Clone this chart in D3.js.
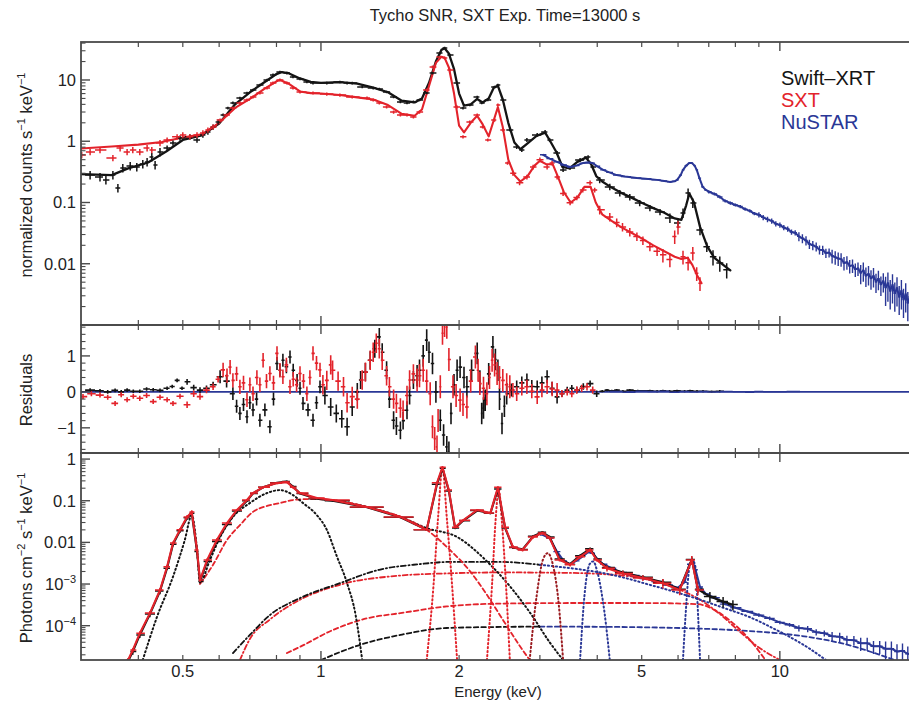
<!DOCTYPE html>
<html><head><meta charset="utf-8">
<script src="https://cdn.jsdelivr.net/npm/d3@7"></script>
<style>
body{margin:0;background:#fff}
svg{display:block}
text{font-family:"Liberation Sans",Arial,Helvetica,sans-serif;fill:#222}
</style>
</head><body>
<svg id="c" width="909" height="702"></svg>
<script>
// ---------- Swift-XRT folded spectrum (counts s^-1 keV^-1) ----------
const xrtE = [0.314,0.330,0.340,0.352,0.361,0.370,0.384,0.397,0.409,0.418,0.428,0.435,0.446,0.462,0.476,0.493,0.518,0.537,0.553,0.567,0.582,0.597,0.612,0.627,0.643,0.666,0.690,0.711,0.736,0.763,0.786,0.814,0.843,0.869,0.900,0.932,0.961,1.03,1.10,1.14,1.17,1.23,1.30,1.34,1.39,1.44,1.49,1.54,1.59,1.64,1.70,1.75,1.82,1.86,1.91,1.98,2.04,2.11,2.19,2.24,2.31,2.39,2.43,2.49,2.58,2.67,2.74,2.81,2.96,3.08,3.15,3.27,3.37,3.49,3.67,3.82,3.91,4.05,4.26,4.48,4.71,4.95,5.21,5.48,5.76,6.00,6.15,6.31,6.46,6.70,6.93,7.15,7.40,7.66];
const xrtRate = [0.282,0.262,0.234,0.282,0.173,0.367,0.395,0.381,0.426,0.459,0.554,0.411,0.669,0.777,0.938,1.13,1.18,1.05,1.27,1.42,1.71,2.06,2.69,3.49,4.22,5.09,6.14,6.87,8.29,10.0,12.1,13.5,13.0,11.2,10.4,9.28,8.93,8.93,9.28,8.93,8.93,7.69,7.40,7.13,6.37,5.28,4.38,4.22,4.38,4.72,6.14,13.0,27.6,33.3,25.6,8.93,3.49,3.91,5.28,4.22,4.72,7.69,8.29,4.72,1.53,0.807,0.721,1.05,1.27,1.42,1.05,0.644,0.340,0.367,0.495,0.554,0.381,0.234,0.180,0.143,0.123,0.0986,0.0817,0.0703,0.0561,0.0465,0.0677,0.143,0.0986,0.0357,0.0189,0.0130,0.0103,0.00795];
const xrtModelE = [0.30,0.35,0.38,0.42,0.46,0.50,0.55,0.60,0.65,0.70,0.75,0.80,0.82,0.85,0.90,0.95,1.0,1.1,1.2,1.3,1.4,1.5,1.6,1.66,1.72,1.78,1.83,1.86,1.90,1.95,2.0,2.05,2.12,2.19,2.25,2.32,2.38,2.43,2.49,2.56,2.64,2.72,2.82,2.95,3.08,3.16,3.26,3.36,3.48,3.62,3.78,3.88,3.98,4.1,4.3,4.5,4.75,5.0,5.3,5.6,5.9,6.1,6.25,6.35,6.5,6.7,6.95,7.2,7.5,7.8];
const xrtModel = [0.29,0.28,0.36,0.45,0.68,1.05,1.25,1.95,4.0,6.3,9.0,12.5,13.4,12.9,10.6,9.3,9.0,9.2,8.7,7.5,6.3,4.6,4.3,5.0,9.0,20,31,33,27,15,6.0,3.8,4.0,4.9,4.3,5.0,7.5,8.0,4.8,2.0,0.95,0.74,0.92,1.22,1.38,1.0,0.66,0.38,0.36,0.46,0.54,0.42,0.27,0.22,0.175,0.145,0.12,0.099,0.081,0.068,0.055,0.052,0.09,0.14,0.10,0.04,0.019,0.0125,0.0098,0.0078];

// ---------- SXT folded spectrum ----------
const sxtE = [0.301,0.314,0.330,0.352,0.365,0.378,0.389,0.403,0.418,0.428,0.446,0.462,0.486,0.500,0.518,0.537,0.553,0.567,0.582,0.603,0.624,0.643,0.666,0.690,0.711,0.736,0.763,0.786,0.814,0.843,0.869,0.900,0.961,1.03,1.10,1.17,1.26,1.30,1.34,1.39,1.44,1.49,1.54,1.59,1.64,1.70,1.75,1.82,1.86,1.91,1.98,2.04,2.11,2.19,2.25,2.31,2.39,2.43,2.49,2.55,2.62,2.71,2.81,2.90,3.00,3.11,3.19,3.27,3.37,3.49,3.61,3.72,3.86,3.95,4.05,4.26,4.41,4.54,4.71,4.88,5.03,5.21,5.40,5.56,5.76,5.90,6.00,6.15,6.31,6.46,6.59,6.70];
const sxtRate = [0.598,0.669,0.721,0.535,0.777,0.669,0.721,0.669,0.777,0.721,0.938,1.05,1.18,1.27,1.18,1.27,1.37,1.53,1.71,2.22,2.69,3.49,4.22,4.72,5.28,6.14,7.40,8.93,10.0,8.93,7.40,6.37,6.14,5.90,5.68,5.28,5.09,4.72,4.22,3.63,3.00,2.69,2.69,2.49,3.00,6.87,16.3,23.7,22.9,14.5,3.63,1.18,2.06,2.69,1.71,1.05,2.22,3.91,1.53,0.44,0.30,0.21,0.26,0.38,0.50,0.38,0.44,0.26,0.14,0.099,0.12,0.16,0.21,0.16,0.076,0.058,0.047,0.040,0.033,0.028,0.024,0.019,0.016,0.014,0.0117,0.028,0.040,0.013,0.0104,0.015,0.007,0.0048];
const sxtModelE = [0.30,0.35,0.40,0.45,0.50,0.55,0.60,0.65,0.70,0.75,0.80,0.815,0.85,0.90,0.95,1.0,1.1,1.2,1.3,1.4,1.5,1.6,1.66,1.72,1.78,1.83,1.86,1.90,1.95,2.0,2.05,2.12,2.19,2.25,2.32,2.38,2.43,2.49,2.56,2.64,2.72,2.82,2.92,3.0,3.1,3.2,3.28,3.38,3.5,3.62,3.75,3.87,3.97,4.1,4.3,4.5,4.75,5.0,5.3,5.6,5.9,6.1,6.3,6.45,6.6,6.75];
const sxtModel = [0.76,0.82,0.88,0.97,1.15,1.3,2.0,3.5,4.9,7.0,9.5,10.0,8.7,6.5,6.1,6.0,5.7,5.2,4.8,3.9,2.8,2.6,3.3,8.0,19,24,23,16,6.0,1.8,1.4,2.0,2.6,1.9,1.2,2.2,3.6,1.7,0.5,0.28,0.22,0.27,0.40,0.48,0.42,0.42,0.27,0.15,0.10,0.12,0.18,0.18,0.10,0.064,0.050,0.040,0.032,0.026,0.020,0.016,0.013,0.012,0.0125,0.0095,0.0065,0.0048];

// ---------- NuSTAR folded spectrum ----------
const nuE = [3.05,3.15,3.27,3.38,3.49,3.60,3.72,3.82,3.91,4.00,4.12,4.25,4.41,4.60,4.88,5.10,5.40,5.60,5.76,5.90,5.97,6.08,6.15,6.25,6.35,6.43,6.52,6.59,6.68,6.79,6.90,
  7.0,7.2,7.4,7.6,7.8,8.0,8.2,8.4,8.6,8.8,9.0,9.2,9.4,9.6,9.8,10.0,10.2,10.4,10.6,10.8,11.0,11.2,11.4,11.6,11.8,12.0,12.2,12.4,12.6,12.8,13.0,13.2,13.4,13.6,13.8,14.0,14.2,14.4,14.6,14.8,15.0,15.2,15.4,15.6,15.8,16.0,16.2,16.4,16.6,16.8,17.0,17.2,17.4,17.6,17.8,18.0,18.2,18.4,18.6,18.8,19.0,19.2,19.4,19.6,19.8,20.0];
const nuRate = [0.60,0.52,0.46,0.41,0.38,0.40,0.44,0.45,0.44,0.39,0.34,0.31,0.28,0.265,0.252,0.245,0.234,0.225,0.217,0.222,0.234,0.28,0.34,0.40,0.44,0.44,0.40,0.34,0.25,0.18,0.16,
  0.150,0.138,0.123,0.106,0.098,0.091,0.086,0.078,0.073,0.066,0.063,0.057,0.053,0.050,0.045,0.043,0.039,0.037,0.033,0.032,0.028,0.026,0.024,0.021,0.020,0.019,0.017,0.0168,0.015,0.0152,0.0135,0.0128,0.0122,0.0119,0.0103,0.0106,0.0092,0.0094,0.0081,0.0084,0.0071,0.0078,0.0064,0.0068,0.0058,0.0063,0.0051,0.0057,0.0046,0.0052,0.0041,0.0048,0.0036,0.0045,0.0033,0.0040,0.0029,0.0036,0.0026,0.0032,0.0023,0.0029,0.0021,0.0027,0.0019,0.0024];

// relative 1-sigma errors by energy band (band lower edges in keV)
const errBandE    = [0.3, 0.45, 0.6, 2.6, 4.0, 5.5, 7.0, 9.0, 11.0, 13.0, 15.0, 17.0];
const xrtErrFrac  = [0.16,0.10,0.05,0.07,0.12,0.18,0.28,0.3,0.3,0.3,0.3,0.3];
const sxtErrFrac  = [0.12,0.10,0.06,0.09,0.16,0.25,0.4,0.4,0.4,0.4,0.4,0.4];
const nuErrFrac   = [0.02,0.02,0.02,0.02,0.02,0.03,0.06,0.10,0.17,0.25,0.35,0.5];

// ---------- residuals ----------
const resXrtE = [0.314,0.330,0.343,0.356,0.367,0.378,0.390,0.403,0.417,0.431,0.446,0.462,0.474,0.486,0.498,0.511,0.528,0.545,0.563,0.582,0.603,0.623,0.643,0.655,0.666,0.678,0.690,0.700,0.711,0.724,0.736,0.755,0.774,0.788,0.802,0.814,0.826,0.841,0.856,0.870,0.887,0.900,0.914,0.937,0.961,0.978,0.995,1.02,1.05,1.08,1.11,1.14,1.17,1.20,1.22,1.25,1.28,1.31,1.34,1.36,1.39,1.41,1.44,1.46,1.49,1.51,1.54,1.56,1.59,1.62,1.64,1.67,1.70,1.72,1.75,1.78,1.82,1.85,1.88,1.90,1.92,1.95,1.98,2.01,2.05,2.08,2.13,2.19,2.22,2.24,2.26,2.28,2.32,2.37,2.40,2.43,2.45,2.48,2.51,2.54,2.60,2.67,2.74,2.81,2.88,2.96,3.03,3.11,3.19,3.27,3.35,3.44,3.52,3.61,3.73,3.86,3.99,4.10,4.20,4.30,4.41,4.55,4.71,4.90,5.21,5.40,5.56,5.75,5.97,6.20,6.37,6.60,6.80,7.10,7.40];
const resXrt = [0.05,0.03,0.0,0.04,0.0,0.05,0.02,0.02,0.08,0.06,0.04,0.10,0.15,0.32,0.10,0.28,0.12,0.05,0.10,0.20,0.42,0.30,-0.05,-0.40,-0.60,-0.35,-0.69,-0.30,-0.50,-0.20,-0.79,-0.50,-0.97,-0.20,0.79,0.60,0.88,0.70,0.97,0.60,0.32,0.10,-0.32,-0.50,-0.79,-0.30,0.14,-0.10,-0.42,-0.60,-0.75,-0.97,-0.42,0.00,0.33,0.55,0.88,1.20,1.53,1.10,0.60,-0.20,-0.79,-0.95,-1.07,-0.80,-0.51,-0.10,0.33,0.45,0.60,1.00,1.44,1.10,0.79,0.00,-0.79,-1.20,-1.53,-1.68,-0.60,0.20,0.60,0.69,0.40,0.14,0.60,1.07,0.30,-0.60,-0.45,-0.23,0.50,1.25,0.90,0.60,-0.20,-0.88,-0.40,-0.05,0.05,0.14,0.25,0.33,0.15,0.14,0.25,0.42,0.10,-0.14,-0.05,0.05,0.10,0.05,0.15,0.23,-0.05,0.02,0.05,0.03,0.05,0.02,0.05,0.03,0.03,0.02,0.03,0.02,0.03,0.02,0.03,0.02,0.02,0.01,0.02];
const resSxtE = [0.303,0.316,0.330,0.343,0.356,0.367,0.378,0.390,0.403,0.417,0.431,0.446,0.462,0.476,0.493,0.511,0.528,0.545,0.563,0.582,0.597,0.612,0.624,0.634,0.643,0.655,0.666,0.678,0.690,0.700,0.711,0.725,0.736,0.748,0.761,0.774,0.788,0.802,0.814,0.826,0.841,0.856,0.870,0.885,0.900,0.916,0.932,0.946,0.961,0.978,0.995,1.01,1.03,1.05,1.06,1.09,1.12,1.14,1.17,1.20,1.23,1.25,1.28,1.30,1.32,1.34,1.36,1.39,1.41,1.44,1.46,1.49,1.51,1.54,1.56,1.59,1.62,1.64,1.67,1.70,1.73,1.75,1.77,1.79,1.80,1.82,1.84,1.86,1.88,1.90,1.94,1.97,2.01,2.04,2.08,2.12,2.17,2.20,2.22,2.26,2.30,2.33,2.36,2.39,2.42,2.45,2.49,2.54,2.58,2.62,2.67,2.74,2.81,2.88,2.96,3.03,3.11,3.19,3.27,3.35,3.44,3.52,3.61,3.70,3.80,3.91];
const resSxt = [-0.13,-0.05,-0.09,-0.15,-0.32,-0.08,-0.22,-0.12,-0.18,-0.10,-0.27,-0.15,-0.22,-0.32,-0.12,-0.36,-0.05,-0.13,0.05,0.14,0.35,0.61,0.45,0.69,0.32,0.50,0.14,0.25,-0.22,0.20,-0.05,0.40,0.20,0.88,0.30,0.51,0.25,1.07,0.60,0.42,0.75,0.14,0.35,0.20,0.51,0.30,-0.05,0.40,1.07,0.80,0.61,0.20,0.32,0.75,0.60,0.30,0.14,-0.30,-0.13,-0.20,0.33,0.55,0.88,1.10,1.35,1.20,0.88,0.45,0.14,-0.20,-0.32,-0.45,-0.51,-0.10,0.33,0.50,0.33,0.45,0.60,0.30,-0.05,-0.97,-1.30,-1.53,-0.80,0.14,1.63,1.85,1.80,0.90,0.14,-0.10,-0.23,-0.35,-0.42,0.30,0.97,0.60,0.23,0.10,-0.05,0.40,0.88,0.75,0.51,0.40,0.32,0.20,0.14,0.05,-0.05,0.10,0.14,0.02,-0.14,0.05,0.14,0.08,0.05,-0.05,0.0,-0.05,0.05,0.10,0.14,0.05];
const resNuE = [4.4,4.7,5.0,5.3,5.6,5.9,6.2,6.5,6.8,7.2,7.6,8.2,8.6,9.0,9.4,10.0,10.7];
const resNu  = [0.01,-0.01,0.02,0.01,0.02,-0.01,0.01,0.0,0.01,0.0,0.01,0.0,-0.01,0.01,0.0,0.0,0.01];
// absolute residual error by energy band
const resErrBandE = [0.3, 0.5, 0.6, 1.0, 1.6, 2.6, 3.3, 4.0];
const resErrXrt   = [0.05,0.08,0.18,0.25,0.30,0.18,0.09,0.03];
const resErrSxt   = [0.07,0.09,0.20,0.27,0.32,0.20,0.10,0.04];

// ---------- unfolded spectra (photons cm^-2 s^-1 keV^-1) ----------
const ufE   = [0.380,0.389,0.403,0.424,0.446,0.462,0.476,0.493,0.511,0.523,0.537,0.545,0.565,0.593,0.624,0.656,0.690,0.711,0.748,0.802,0.843,0.869,0.900,0.980,1.06,1.26,1.49,1.70,1.79,1.84,1.90,1.96,2.04,2.19,2.34,2.43,2.52,2.62,2.75,2.90,3.04,3.15,3.31,3.49,3.67,3.86,3.99,4.20,4.55,5.03,5.56,6.05,6.43,6.63,7.04,7.52,7.90];
const ufXrt = [1.4e-5,2.4e-5,6.0e-5,1.9e-4,6.8e-4,2.4e-3,9.0e-3,0.019,0.039,0.050,6.0e-3,1.15e-3,3.5e-3,0.0105,0.027,0.057,0.100,0.150,0.21,0.27,0.29,0.22,0.150,0.112,0.100,0.070,0.040,0.020,0.25,0.60,0.17,0.022,0.033,0.058,0.050,0.19,0.022,7.5e-3,6.8e-3,0.0140,0.0175,0.0135,4.0e-3,3.0e-3,4.8e-3,7.0e-3,4.0e-3,2.5e-3,1.9e-3,1.45e-3,1.1e-3,7.5e-4,3.9e-3,7.5e-4,5.0e-4,3.8e-4,3.2e-4];
const ufSxt = [1.5e-5,2.6e-5,6.6e-5,2.0e-4,7.2e-4,2.6e-3,9.6e-3,0.020,0.041,0.054,6.6e-3,1.25e-3,3.8e-3,0.0114,0.029,0.060,0.104,0.153,0.21,0.265,0.28,0.21,0.153,0.116,0.104,0.071,0.041,0.020,0.27,0.64,0.18,0.023,0.034,0.060,0.051,0.21,0.023,7.8e-3,6.6e-3,0.0135,0.0168,0.0128,3.8e-3,2.9e-3,4.5e-3,6.6e-3,3.8e-3,2.4e-3,1.8e-3,1.4e-3,1.05e-3,7.2e-4,3.8e-3,7.2e-4];
const ufNuE = [3.05,3.15,3.27,3.38,3.49,3.60,3.72,3.82,3.91,4.00,4.12,4.30,4.50,4.80,5.10,5.40,5.70,6.00,6.20,6.35,6.45,6.55,6.70,6.90,7.20,7.60,8.00,8.50,9.00,9.50,10.0,10.5,11.0,11.5,12.0,12.5,13.0,13.5,14.0,14.5,15.0,15.5,16.0,16.5,17.0,17.5,18.0,18.5,19.0,19.5,20.0];
const ufNu  = [0.0150,0.0125,0.0060,0.0036,0.0030,0.0036,0.0046,0.0058,0.0055,0.0040,0.0030,0.0024,0.0019,0.0016,0.00135,0.00115,0.00095,0.00082,0.0011,0.0030,0.0036,0.0022,0.00085,0.00058,0.00047,0.00033,0.00027,0.00022,0.00018,0.00015,0.00012,0.000105,0.000088,0.000084,0.000070,0.000066,0.000056,0.000054,0.000046,0.000045,0.000038,0.000038,0.000032,0.000032,0.000028,0.000028,0.000024,0.000025,0.000021,0.000022,0.000019];

// ---------- model components (unfolded) ----------
const softE   = [0.409,0.439,0.476,0.505,0.523,0.537,0.545,0.573,0.603,0.643,0.700,0.763,0.814,0.869,0.914,0.980,1.03,1.08,1.14,1.19,1.23];
const softV   = [1.5e-5,1.6e-4,1.5e-3,0.0114,0.045,6.6e-3,1.1e-3,3.8e-3,0.0135,0.041,0.088,0.153,0.18,0.137,0.088,0.045,0.020,5.0e-3,1.05e-3,1.8e-4,1.5e-5];
const mainE   = [0.545,0.582,0.624,0.666,0.711,0.763,0.814,0.869,0.946,1.06,1.26,1.49,1.70,1.91,2.10,2.30,2.50,2.70,2.85];
const mainV   = [1.0e-3,2.9e-3,0.0114,0.026,0.054,0.075,0.088,0.104,0.110,0.104,0.071,0.041,0.020,6.6e-3,2.2e-3,5.5e-4,1.3e-4,3.5e-5,1.5e-5];
const mainXE  = [1.06,1.26,1.49,1.70,1.98,2.30,2.60,2.90,3.15,3.37];
const mainXV  = [0.104,0.071,0.041,0.022,0.0135,3.5e-3,8e-4,1.6e-4,4e-5,1.5e-5];
const riseAE  = [0.643,0.700,0.774,0.900,1.10,1.34,1.64,1.91,2.45,3.0];
const riseAV  = [2.2e-5,6e-5,1.8e-4,4.6e-4,1.05e-3,2.2e-3,3.0e-3,3.4e-3,3.4e-3,2.9e-3];
const nuSoftE = [3.0,3.5,4.05,4.6,5.2,5.9,6.7,7.6,8.6,9.6,10.5,11.5,12.6];
const nuSoftV = [2.9e-3,2.4e-3,1.9e-3,1.4e-3,9.6e-4,6.5e-4,4.2e-4,2.6e-4,1.6e-4,9e-5,5.4e-5,3e-5,1.5e-5];
const riseBE  = [0.666,0.700,0.774,0.900,1.10,1.49,1.88,2.45,3.5,4.05,4.95,5.6,6.2,6.7,7.4,8.2,9.0,10.0];
const riseBV  = [1.5e-5,4.8e-5,1.4e-4,4.2e-4,9.6e-4,1.6e-3,1.8e-3,1.9e-3,1.85e-3,1.75e-3,1.4e-3,1.0e-3,6.5e-4,4.2e-4,1.9e-4,7e-5,3e-5,1.5e-5];
const riseCE  = [0.843,0.90,1.06,1.26,1.49,1.88,2.5,3.5,5.0,6.6,7.2,7.8,8.6,9.3];
const riseCV  = [2.2e-5,3.1e-5,7.8e-5,1.5e-4,2.0e-4,2.9e-4,3.4e-4,3.5e-4,3.5e-4,3.3e-4,2.4e-4,1.3e-4,4.6e-5,1.5e-5];
const riseDE  = [1.0,1.22,1.49,1.88,2.4,3.0];
const riseDV  = [1.5e-5,3.5e-5,6.0e-5,8.8e-5,9.3e-5,9.5e-5];
const nuHardE = [3.0,4.05,5.5,6.7,8.0,10.0,11.5,12.8,14.3,15.7,17.8];
const nuHardV = [9.5e-5,9.4e-5,9.0e-5,8.5e-5,7.8e-5,6.5e-5,5.4e-5,4.4e-5,3.3e-5,2.4e-5,1.5e-5];
const lineSiE = [1.70,1.76,1.80,1.84,1.88,1.93,1.98];
const lineSiV = [1.5e-5,1e-3,0.04,0.62,0.04,1e-3,1.5e-5];
const lineSE  = [2.30,2.36,2.40,2.44,2.48,2.53,2.58];
const lineSV  = [1.5e-5,1e-3,0.03,0.19,0.03,1e-3,1.5e-5];
const lineArE = [2.85,2.95,3.05,3.12,3.20,3.30,3.37];
const lineArV = [1.5e-5,5e-4,4e-3,5.5e-3,3e-3,3e-4,1.5e-5];
const lineCaE = [3.67,3.75,3.85,3.92,4.00,4.15,4.26];
const lineCaV = [1.5e-5,5e-4,3e-3,3.5e-3,2e-3,2e-4,1.5e-5];
const lineFeE = [6.15,6.25,6.35,6.45,6.55,6.62,6.70];
const lineFeV = [1.5e-5,3e-4,2.5e-3,3.8e-3,2.5e-3,3e-4,1.5e-5];

// ---------- axis ticks and labels ----------
const xMajorTicks = [1, 10];
const xMinorTicks = [0.4,0.5,0.6,0.7,0.8,0.9,2,3,4,5,6,7,8,9,20];
const xTickLabels = [0.5, 1, 2, 5, 10];
const topTickLabels = [[10,"10"],[1,"1"],[0.1,"0.1"],[0.01,"0.01"]];
const resTickLabels = [[1,"1"],[0,"0"],[-1,"\u22121"]];
const ufTickLabels  = [[1,"1",""],[0.1,"0.1",""],[0.01,"0.01",""],[1e-3,"10","\u22123"],[1e-4,"10","\u22124"]];

// ---------- layout ----------
const C = {black:"#141414", red:"#e3232b", blue:"#2a3796", frame:"#4a4a4a"};
const X0 = 81, X1 = 918;
const P = {top:[42,325], res:[325,453], uf:[453,660]};
const FS = 16.5;
const svg = d3.select("#c");
const x   = d3.scaleLog().domain([0.3, 20]).range([X0, X1]);
const yTop = d3.scaleLog().domain([1e-3, 41.7]).range([P.top[1], P.top[0]]);
const yRes = d3.scaleLinear().domain([-1.7, 1.86]).range([P.res[1], P.res[0]]);
const yUf  = d3.scaleLog().domain([1.5e-5, 1.4]).range([P.uf[1], P.uf[0]]);

const defs = svg.append("defs");
function clipFor(id, y0, y1){
  defs.append("clipPath").attr("id", id).append("rect")
    .attr("x", X0).attr("y", y0).attr("width", X1 - X0).attr("height", y1 - y0);
  return svg.append("g").attr("clip-path", `url(#${id})`);
}
const gTop = clipFor("clipTop", P.top[0], P.top[1]);
const gRes = clipFor("clipRes", P.res[0], P.res[1]);
const gUf  = clipFor("clipUf",  P.uf[0],  P.uf[1]);

function bandValue(edges, vals, e){
  let v = vals[0];
  for (let i = 0; i < edges.length; i++) if (e >= edges[i]) v = vals[i];
  return v;
}
// bin edges from geometric midpoints between neighbouring channels
function binEdges(E, i){
  const lo = i > 0 ? Math.sqrt(E[i-1]*E[i]) : E[i]*E[i]/Math.sqrt(E[i]*E[i+1]);
  const hi = i < E.length-1 ? Math.sqrt(E[i]*E[i+1]) : E[i]*E[i]/Math.sqrt(E[i-1]*E[i]);
  return [lo, hi];
}
// data crosses: horizontal bar = channel width, vertical bar = error
function crosses(g, E, V, y, errFn, color, sw){
  let d = "";
  for (let i = 0; i < V.length; i++){
    const [lo, hi] = binEdges(E, i);
    const [eLo, eHi] = errFn(E[i], V[i]);
    const yc = y(V[i]);
    d += `M${x(lo).toFixed(1)},${yc.toFixed(1)}H${x(hi).toFixed(1)}`;
    d += `M${x(E[i]).toFixed(1)},${y(eLo).toFixed(1)}V${y(eHi).toFixed(1)}`;
  }
  g.append("path").attr("d", d).attr("fill","none").attr("stroke", color).attr("stroke-width", sw);
}
function line(g, E, V, y, color, sw, dash, curve){
  const pts = E.map((e,i)=>[e, V[i]]).slice(0, V.length);
  const gen = d3.line().x(d=>x(d[0])).y(d=>y(d[1])).curve(curve || d3.curveLinear);
  const p = g.append("path").attr("d", gen(pts)).attr("fill","none")
    .attr("stroke", color).attr("stroke-width", sw).attr("stroke-linecap","round").attr("stroke-linejoin","round");
  if (dash) p.attr("stroke-dasharray", dash);
  return p;
}
const relErr = frac => (e, v) => { const f = bandValue(errBandE, frac, e); return [v*(1-f), v*(1+f)]; };
const absErr = errs => (e, r) => { const s = bandValue(resErrBandE, errs, e); return [r - s, r + s]; };

// ---------- top panel: folded spectra ----------
line(gTop, xrtModelE, xrtModel, yTop, C.black, 2.3);
line(gTop, sxtModelE, sxtModel, yTop, C.red, 2.1);
crosses(gTop, xrtE, xrtRate, yTop, relErr(xrtErrFrac), C.black, 1.5);
crosses(gTop, sxtE, sxtRate, yTop, relErr(sxtErrFrac), C.red, 1.5);
line(gTop, nuE, nuRate, yTop, C.blue, 2);
crosses(gTop, nuE, nuRate, yTop, relErr(nuErrFrac), C.blue, 1.4);

// ---------- middle panel: residuals ----------
gRes.append("line").attr("x1", X0).attr("x2", X1).attr("y1", yRes(0)).attr("y2", yRes(0))
  .attr("stroke", C.blue).attr("stroke-width", 1.8);
crosses(gRes, resXrtE, resXrt, yRes, absErr(resErrXrt), C.black, 1.6);
crosses(gRes, resSxtE, resSxt, yRes, absErr(resErrSxt), C.red, 1.6);
crosses(gRes, resNuE, resNu, yRes, (e, r) => [r - 0.02, r + 0.02], C.blue, 1.4);

// ---------- bottom panel: unfolded spectra with components ----------
const DOT = "1.2,2.8", DASH = "4.5,3", DASHDOT = "5,2.6,1.2,2.6";
const smooth = d3.curveMonotoneX;
line(gUf, riseDE, riseDV, yUf, C.black, 1.8, DASH, smooth);
line(gUf, nuHardE, nuHardV, yUf, C.blue, 1.8, DASH, smooth);
line(gUf, riseCE, riseCV, yUf, C.red, 1.8, DASH, smooth);
line(gUf, riseBE, riseBV, yUf, C.red, 1.8, DASHDOT, smooth);
line(gUf, riseAE, riseAV, yUf, C.black, 1.8, DASHDOT, smooth);
line(gUf, nuSoftE, nuSoftV, yUf, C.blue, 2, DOT, smooth);
line(gUf, mainXE, mainXV, yUf, C.black, 2, DOT, smooth);
line(gUf, mainE, mainV, yUf, C.red, 1.8, DASH, smooth);
line(gUf, softE, softV, yUf, C.black, 2, DOT, smooth);
line(gUf, lineSiE, lineSiV, yUf, C.red, 2, DOT, smooth);
line(gUf, lineSE, lineSV, yUf, C.red, 2, DOT, smooth);
line(gUf, lineArE, lineArV, yUf, "#9a1a1f", 2, DOT, smooth);
line(gUf, lineCaE, lineCaV, yUf, C.blue, 2, DOT, smooth);
line(gUf, lineFeE, lineFeV, yUf, C.blue, 2, DOT, smooth);

line(gUf, ufNuE, ufNu, yUf, C.blue, 2);
crosses(gUf, ufNuE, ufNu, yUf, relErr(nuErrFrac), C.blue, 1.4);
line(gUf, ufE, ufXrt, yUf, C.black, 2.1);
crosses(gUf, ufE, ufXrt, yUf, relErr(xrtErrFrac), C.black, 1.5);
line(gUf, ufE, ufSxt, yUf, C.red, 2.1);
crosses(gUf, ufE, ufSxt, yUf, relErr(sxtErrFrac), C.red, 1.5);

// ---------- frames and ticks ----------
const axes = svg.append("g").attr("stroke", C.frame).attr("fill","none");
function tickX(y0, y1){
  xMajorTicks.forEach(t => {
    axes.append("line").attr("x1", x(t)).attr("x2", x(t)).attr("y1", y0).attr("y2", y0 + 9).attr("stroke-width", 1.4);
    axes.append("line").attr("x1", x(t)).attr("x2", x(t)).attr("y1", y1).attr("y2", y1 - 9).attr("stroke-width", 1.4);
  });
  xMinorTicks.forEach(t => {
    axes.append("line").attr("x1", x(t)).attr("x2", x(t)).attr("y1", y0).attr("y2", y0 + 5).attr("stroke-width", 1.2);
    axes.append("line").attr("x1", x(t)).attr("x2", x(t)).attr("y1", y1).attr("y2", y1 - 5).attr("stroke-width", 1.2);
  });
}
function tickYLog(y){
  const [lo, hi] = y.domain();
  for (let d = Math.floor(Math.log10(lo)); d <= Math.ceil(Math.log10(hi)); d++){
    for (let m = 1; m <= 9; m++){
      const v = m * Math.pow(10, d);
      if (v < lo || v > hi) continue;
      const len = m === 1 ? 9 : 4.5;
      axes.append("line").attr("x1", X0).attr("x2", X0 + len).attr("y1", y(v)).attr("y2", y(v)).attr("stroke-width", m === 1 ? 1.4 : 1.1);
    }
  }
}
function tickYLin(y){
  const [lo, hi] = y.domain();
  for (let v = Math.ceil(lo*5)/5; v <= hi; v += 0.2){
    const major = Math.abs(v - Math.round(v)) < 1e-6;
    axes.append("line").attr("x1", X0).attr("x2", X0 + (major ? 9 : 4.5)).attr("y1", y(v)).attr("y2", y(v)).attr("stroke-width", major ? 1.4 : 1.1);
  }
}
[P.top, P.res, P.uf].forEach(([y0, y1]) => {
  axes.append("rect").attr("x", X0).attr("y", y0).attr("width", X1 - X0).attr("height", y1 - y0).attr("stroke-width", 1.8);
  tickX(y0, y1);
});
tickYLog(yTop); tickYLin(yRes); tickYLog(yUf);

// ---------- tick labels ----------
const lab = svg.append("g").attr("font-size", FS);
topTickLabels.forEach(([v, s]) => lab.append("text").attr("x", 76).attr("y", yTop(v) + 6).attr("text-anchor","end").text(s));
resTickLabels.forEach(([v, s]) => lab.append("text").attr("x", 76).attr("y", yRes(v) + 6).attr("text-anchor","end").text(s));
ufTickLabels.forEach(([v, s, sup]) => {
  const t = lab.append("text").attr("x", 76).attr("y", yUf(v) + 6).attr("text-anchor","end");
  t.append("tspan").text(s);
  if (sup) t.append("tspan").attr("font-size", 11).attr("dy", -7).text(sup);
});
xTickLabels.forEach(v => lab.append("text").attr("x", x(v)).attr("y", 677).attr("text-anchor","middle").text(v));

// ---------- titles ----------
svg.append("text").attr("x", 505).attr("y", 21).attr("text-anchor","middle").attr("font-size", 16.5)
  .text("Tycho SNR,  SXT Exp. Time=13000 s");
svg.append("text").attr("x", 498).attr("y", 697).attr("text-anchor","middle").attr("font-size", 15).text("Energy (keV)");
function yTitle(cy, parts){
  const t = svg.append("text").attr("transform", `translate(25,${cy}) rotate(-90)`).attr("text-anchor","middle").attr("font-size", FS);
  parts.forEach(([s, sup]) => {
    if (sup) t.append("tspan").attr("font-size", 11).attr("dy", -7).text(s);
    else t.append("tspan").attr("dy", t.selectAll("tspan").size() ? 7 : 0).text(s);
  });
}
yTitle(175, [["normalized counts s"],["\u22121",1],[" keV"],["\u22121",1]]);
yTitle(390, [["Residuals"]]);
yTitle(558, [["Photons cm"],["\u22122",1],[" s"],["\u22121",1],[" keV"],["\u22121",1]]);

// ---------- legend ----------
const legend = [["Swift\u2013XRT", C.black], ["SXT", C.red], ["NuSTAR", C.blue]];
legend.forEach(([s, c], i) => svg.append("text").attr("x", 781).attr("y", 85 + i*22).attr("font-size", 20)
  .style("fill", c).text(s));
</script>
</body></html>
